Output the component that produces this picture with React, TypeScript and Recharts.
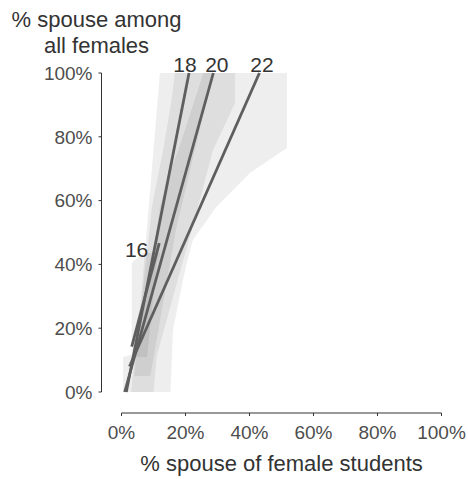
import React from 'react';
import { ComposedChart, Area, Line, XAxis, YAxis } from 'recharts';

const FONT = '"Liberation Sans", Arial, sans-serif';
const LINE_COLOR = '#5e5e5e';

const TICKS = [0, 20, 40, 60, 80, 100];

// fitted lines, one per age: bottom and top end points (x = % of female students, y = % among all females)
const AGES = ['16', '18', '20', '22'];
const LINE_X0 = [3.2, 1.5, 1.0, 2.5];
const LINE_Y0 = [14.2, 0, 0, 8];
const LINE_X1 = [11.8, 21.1, 28.7, 43.1];
const LINE_Y1 = [46.7, 100, 100, 100];

// small nudges of the end labels so they do not collide
const LABEL_DX: Record<string, number> = { '16': -11, '18': -4, '20': 3.5, '22': 2.5 };

// confidence bands, x range given at each y level
const BAND_16_Y = [11, 40.4, 43.6];
const BAND_16_LO = [3.2, 3.2, 6.7];
const BAND_16_HI = [8, 11, 12];

const BAND_18_Y = [5, 50.8, 100];
const BAND_18_LO = [4, 7.9, 12];
const BAND_18_HI = [9, 17, 28.6];

const BAND_20_Y = [0, 11, 12, 58, 75.9, 90.6, 100];
const BAND_20_LO = [0.5, 0.5, 4.5, 9.5, 13, 15.5, 16.7];
const BAND_20_HI = [10, 11, 11.2, 23.9, 28.6, 35.5, 35.5];

const BAND_22_Y = [0, 19.4, 35, 40.4, 47.6, 50.8, 58.1, 68.7, 76.5, 100];
const BAND_22_LO = [3, 5, 8, 9, 10.5, 11, 12, 15, 18, 25.6];
const BAND_22_HI = [15.3, 16.1, 19.2, 20.4, 22.3, 24.5, 29.7, 40.2, 51.7, 51.7];

const band = (ys: number[], lo: number[], hi: number[]) =>
  ys.map((y, i) => ({ y, range: [lo[i], hi[i]] }));

const bands = [
  band(BAND_16_Y, BAND_16_LO, BAND_16_HI),
  band(BAND_18_Y, BAND_18_LO, BAND_18_HI),
  band(BAND_20_Y, BAND_20_LO, BAND_20_HI),
  band(BAND_22_Y, BAND_22_LO, BAND_22_HI),
];

const lines = AGES.map((age, i) => ({
  age,
  data: [
    { y: LINE_Y0[i], x: LINE_X0[i] },
    { y: LINE_Y1[i], x: LINE_X1[i] },
  ],
}));

const endLabel = (age: string) => (p: any) => {
  if (p.index !== 1) return null;
  const left = age === '16';
  return (
    <text
      key={age}
      x={p.x + LABEL_DX[age]}
      y={left ? p.y + 14 : p.y - 1}
      textAnchor={left ? 'end' : 'middle'}
      fontSize={21}
      fontFamily={FONT}
      fill="#333"
    >
      {age}
    </text>
  );
};

const YTitle = ({ viewBox }: any) => {
  const cx = viewBox.x + viewBox.width - 5;
  return (
    <text textAnchor="middle" fontSize={22} fontFamily={FONT} fill="#333">
      <tspan x={cx} y={viewBox.y - 46}>% spouse among</tspan>
      <tspan x={cx} y={viewBox.y - 20}>all females</tspan>
    </text>
  );
};

const XTitle = ({ viewBox }: any) => (
  <text
    x={viewBox.x + 20 + (viewBox.width - 20) / 2}
    y={viewBox.y + 58}
    textAnchor="middle"
    fontSize={22}
    fontFamily={FONT}
    fill="#333"
  >
    % spouse of female students
  </text>
);

export default function App() {
  const tick = { fontSize: 19, fill: '#4d4d4d', fontFamily: FONT };
  return (
    <div style={{ position: 'absolute', left: 0, top: 0, background: '#fff' }}>
      <ComposedChart
        width={468}
        height={479}
        layout="vertical"
        margin={{ top: 73, right: 26.5, bottom: 0, left: 0 }}
      >
        <XAxis
          type="number"
          domain={[0, 100]}
          ticks={TICKS}
          tickFormatter={(v) => `${v}%`}
          padding={{ left: 20, right: 0 }}
          height={66}
          tickSize={3}
          tickMargin={10}
          tick={tick}
          stroke="#333"
          axisLine={{ stroke: '#333', strokeDasharray: '0 20 320' }}
          label={<XTitle />}
        />
        <YAxis
          type="number"
          dataKey="y"
          domain={[0, 100]}
          reversed
          ticks={TICKS}
          tickFormatter={(v) => `${v}%`}
          padding={{ top: 0, bottom: 21 }}
          width={101.5}
          tickSize={3}
          tickMargin={6}
          tick={tick}
          stroke="#333"
          axisLine={{ stroke: '#333', strokeDasharray: '319 40' }}
          label={<YTitle />}
        />
        {bands.map((d, i) => (
          <Area
            key={`band-${i}`}
            data={d}
            dataKey="range"
            type="linear"
            stroke="none"
            fill="#000"
            fillOpacity={0.065}
            isAnimationActive={false}
          />
        ))}
        {lines.map((l) => (
          <Line
            key={`line-${l.age}`}
            data={l.data}
            dataKey="x"
            type="linear"
            stroke={LINE_COLOR}
            strokeWidth={2.8}
            dot={false}
            label={endLabel(l.age)}
            isAnimationActive={false}
          />
        ))}
      </ComposedChart>
    </div>
  );
}
